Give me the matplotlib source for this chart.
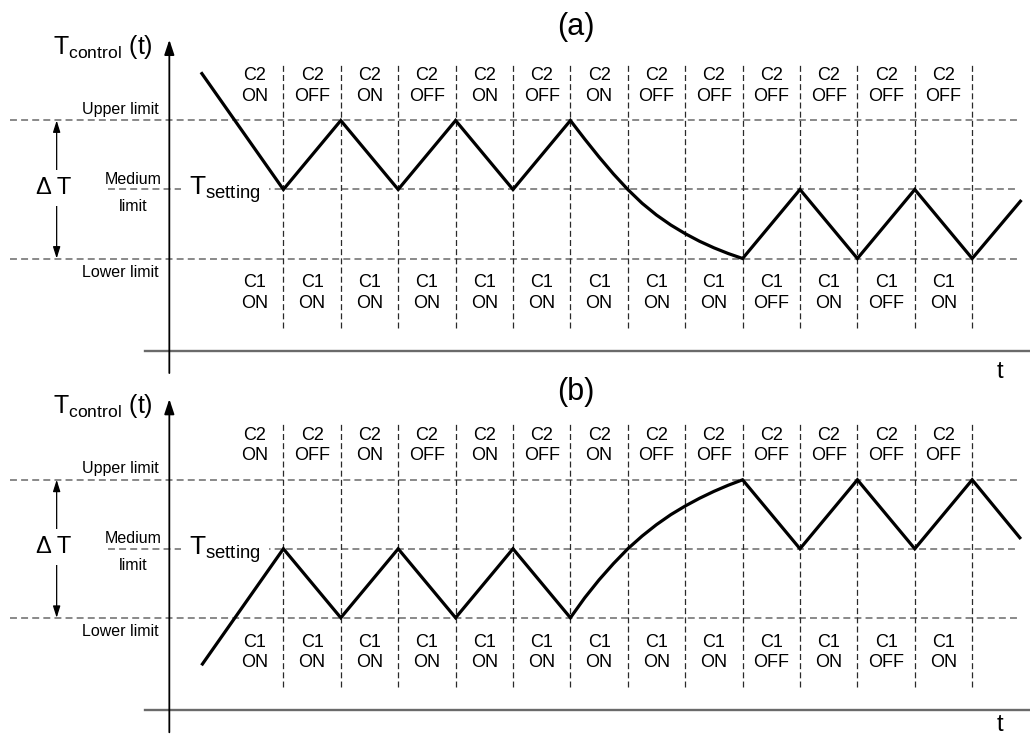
import numpy as np
import matplotlib
matplotlib.use("Agg")
import matplotlib.pyplot as plt

plt.rcParams['font.family'] = ['Liberation Sans', 'DejaVu Sans']
plt.rcParams['mathtext.fontset'] = 'custom'
plt.rcParams['mathtext.rm'] = 'Liberation Sans'
plt.rcParams['mathtext.it'] = 'Liberation Sans'
plt.rcParams['lines.scale_dashes'] = False

# switching slots (one per interval between dashed verticals)
c2_states = ['ON', 'OFF', 'ON', 'OFF', 'ON', 'OFF', 'ON',
             'OFF', 'OFF', 'OFF', 'OFF', 'OFF', 'OFF']
c1_states = ['ON', 'ON', 'ON', 'ON', 'ON', 'ON', 'ON',
             'ON', 'ON', 'OFF', 'ON', 'OFF', 'ON']

# temperature levels: lower / medium / upper limit
levels = [-1, 0, 1]

# panel (a): cooling down from above, then oscillating around lower band
t_a = [-0.42, 1, 2, 3, 4, 5, 6, 6.25, 6.5, 6.75, 7, 7.25, 7.5, 7.75,
       8, 8.25, 8.5, 8.75, 9, 10, 11, 12, 13, 13.84]
T_a = [1.68, 0, 1, 0, 1, 0, 1, 0.73, 0.47, 0.225, 0, -0.2, -0.37, -0.515,
       -0.64, -0.75, -0.845, -0.928, -1, 0, -1, 0, -1, -0.17]

# panel (b): warming up from below, then oscillating around upper band
t_b = [-0.41, 1, 2, 3, 4, 5, 6, 6.25, 6.5, 6.75, 7, 7.25, 7.5, 7.75,
       8, 8.25, 8.5, 8.75, 9, 10, 11, 12, 13, 13.83]
T_b = [-1.67, 0, -1, 0, -1, 0, -1, -0.71, -0.45, -0.215, 0, 0.185, 0.35, 0.495,
       0.62, 0.732, 0.832, 0.921, 1, 0, 1, 0, 1, 0.16]

GRAY = '#6a6a6a'


def draw_panel(ax, t, T, tag, tag_y, t_label_y):
    ax.set_xlim(-3.937, 14.007)
    ax.axis('off')

    # limit lines
    for lv in levels:
        x0 = -2.06 if lv == 0 else -3.76
        ax.plot([x0, 13.78], [lv, lv], color=GRAY, lw=1.1,
                dashes=(5.0, 3.0), zorder=1)

    # slot boundaries
    for k in range(1, len(c2_states) + 1):
        ax.plot([k, k], [-2.007, 1.84], color='#2a2a2a', lw=0.9,
                dashes=(4.3, 2.3), zorder=1)

    # switching state labels
    for k, (s2, s1) in enumerate(zip(c2_states, c1_states)):
        ax.text(k + 0.5, 1.5, 'C2\n' + s2, ha='center', va='center',
                fontsize=13, linespacing=1.24, zorder=4)
        ax.text(k + 0.5, -1.5, 'C1\n' + s1, ha='center', va='center',
                fontsize=13, linespacing=1.24, zorder=4)

    # temperature trace
    ax.plot(t, T, color='black', lw=2.3, solid_joinstyle='miter', zorder=5)

    # axes
    ax.annotate('', xy=(-0.987, 2.17), xytext=(-0.987, -2.66),
                arrowprops=dict(arrowstyle='-|>,head_length=0.9,head_width=0.3',
                                color='black', lw=1.3, shrinkA=0, shrinkB=0),
                zorder=6)
    ax.plot([-1.41, 14.007], [-2.336, -2.336], color=GRAY, lw=1.7, zorder=5)
    ax.text(13.48, t_label_y, 't', ha='center', va='center', fontsize=17)

    # delta T arrow
    ax.annotate('', xy=(-2.95, 1), xytext=(-2.95, -1),
                arrowprops=dict(arrowstyle='<|-|>,head_length=0.7,head_width=0.22',
                                color='black', lw=0.9, shrinkA=0, shrinkB=0),
                zorder=2)
    ax.text(-3.0, 0.02, '\u0394 T', ha='center', va='center', fontsize=17,
            bbox=dict(boxstyle='square,pad=0.3', fc='white', ec='none'),
            zorder=4)

    # level labels
    ax.text(-1.167, 1.16, 'Upper limit', ha='right', va='center', fontsize=11.5)
    ax.text(-1.167, -1.2, 'Lower limit', ha='right', va='center', fontsize=11.5)
    ax.text(-1.62, 0.145, 'Medium', ha='center', va='center', fontsize=11.5)
    ax.text(-1.62, -0.24, 'limit', ha='center', va='center', fontsize=11.5)
    ax.text(-0.64, -0.08, r'$\mathrm{T}_{\mathrm{setting}}$', ha='left',
            va='baseline', fontsize=19,
            bbox=dict(boxstyle='square,pad=0.3', fc='white', ec='none'),
            zorder=4)
    ax.text(-1.27, 2.065, r'$\mathrm{T}_{\mathrm{control}}$ (t)', ha='right',
            va='center', fontsize=18)

    ax.text(6.09, tag_y, tag, ha='center', va='center', fontsize=22)


fig = plt.figure(figsize=(10.3, 7.37), dpi=100)
half = 368.5 / 737
ax_a = fig.add_axes([0, half, 1, half])
ax_b = fig.add_axes([0, 0, 1, half])

ax_a.set_ylim(-2.594, 2.746)
ax_b.set_ylim(-2.728, 2.613)

draw_panel(ax_a, t_a, T_a, '(a)', 2.35, -2.645)
draw_panel(ax_b, t_b, T_b, '(b)', 2.27, -2.56)

fig.savefig('out.png', dpi=100)
